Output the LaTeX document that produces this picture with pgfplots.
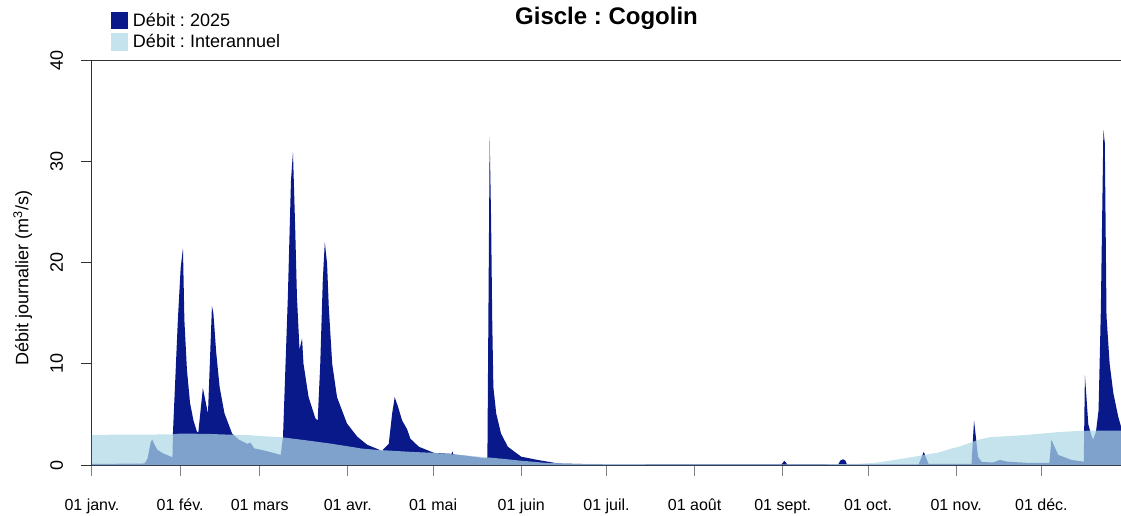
\documentclass[border=0pt]{standalone}
\usepackage{fontspec}
\setmainfont{Liberation Sans}
\usepackage{pgfplots}
\pgfplotsset{compat=1.18}
\definecolor{navyq}{RGB}{10,25,138}
\definecolor{interbleu}{RGB}{173,216,230}
\definecolor{axisgray}{RGB}{50,50,50}
\definecolor{tickgray}{RGB}{130,130,130}
\frenchspacing

\begin{document}
\begin{tikzpicture}
\useasboundingbox (-92pt,-50pt) rectangle (1029pt,465pt);
\begin{axis}[
  width=1029pt, height=405pt, scale only axis,
  xmin=0, xmax=362, ymin=0, ymax=40,
  axis x line*=bottom, axis y line*=left,
  axis line style={axisgray, line width=1pt},
  tick align=outside,
  major tick length=11pt,
  xtick={0,31,59,90,120,151,181,212,243,273,304,334},
  xticklabels={01 janv.,01 fév.,01 mars,01 avr.,01 mai,01 juin,01 juil.,01 août,01 sept.,01 oct.,01 nov.,01 déc.},
  ytick={0,10,20,30,40},
  x tick style={tickgray, line width=1pt},
  y tick style={axisgray, line width=1pt},
  xticklabel style={font=\fontsize{16}{19}\selectfont, anchor=base, yshift=-34pt},
  yticklabel style={font=\fontsize{18}{21}\selectfont, xshift=-18pt, rotate=90, anchor=base},
  /pgf/number format/assume math mode=true,
  every axis y label/.style={at={(axis description cs:0,0.462)}, xshift=-63.5pt, rotate=90, anchor=base, font=\fontsize{18}{21}\selectfont},
  ylabel={Débit journalier (m\textsuperscript{3}/s)},
  title={Giscle : Cogolin},
  title style={font=\fontsize{24}{28}\selectfont\bfseries, at={(axis description cs:0.5,1)}, anchor=base, yshift=29pt},
  legend style={at={(axis description cs:0,1)}, anchor=north west, xshift=19pt, yshift=48pt,
    draw=none, fill=none, inner sep=0pt, outer sep=0pt,
    font=\fontsize{18}{21}\selectfont, row sep=4.5pt, nodes={inner sep=0pt}, cells={anchor=west}},
  legend image code/.code={\fill[#1] (0pt,-8.5pt) rectangle (17pt,8.5pt);},
  /tikz/every odd column/.append style={column sep=5pt},
]

% Debit 2025
\addplot[fill=navyq, draw=none] coordinates {
(0,0.1) (18.5,0.15) (19.5,0.6) (20.7,2.3) (21.2,2.5) (22,2.0) (23,1.5) (25,1.15) (28.3,0.76)
(28.5,3.3) (30.2,14.3) (31.2,19.5) (32,21.4) (32.5,14.3) (33.4,9.4) (34.5,6.1) (35.7,4.4)
(36.9,3.3) (37.4,3.2) (39,7.6) (40.8,5.1) (42.2,15.7) (42.7,15.0) (43.7,11.1) (44.9,7.7)
(46.6,5.1) (49.3,3.1) (51.7,2.5) (54.6,2.1) (55.8,2.2) (57,1.65) (61,1.4) (66.4,1.0)
(67.2,2.8) (68.9,16.6) (70,28.1) (70.7,30.9) (71.5,23.2) (72.1,16.6) (73,11.4) (73.9,12.5)
(74.4,10.0) (76.2,6.7) (78.6,4.6) (79.4,4.4) (80.3,10.0) (81.2,18.3) (81.9,22.0) (82.7,19.9)
(83.3,15.6) (84.5,10.0) (86.2,6.7) (89.7,4.1) (93.3,2.8) (96.8,2.0) (102,1.4) (104.4,2.1)
(105.6,5.1) (106.5,6.7) (107.6,5.8) (109.1,4.4) (110.9,3.5) (112,2.6) (115,1.8) (120.3,1.2)
(126.5,1.1) (126.8,1.35) (127.1,1.05) (132,0.9) (138.8,0.66) (139.1,0.8) (139.9,32.4)
(140.4,24.2) (140.8,14.3) (141.2,7.7) (142.2,5.1) (143.9,3.1) (146.3,1.8) (151,0.82)
(156.8,0.5) (163.8,0.16) (175,0.08) (200,0.05) (242.5,0.05) (243.6,0.42) (244.6,0.05)
(262.5,0.05) (263.3,0.45) (264.2,0.56) (265,0.45) (265.6,0.05) (290.8,0.05) (292.6,1.3)
(294.3,0.1) (309.4,0.1) (310.3,4.4) (311.7,0.8) (313,0.3) (317,0.25) (319.4,0.5) (322,0.33)
(330,0.2) (336.8,0.2) (337.5,2.5) (339.9,1.0) (344.6,0.5) (348.9,0.33) (349.3,8.9)
(350.5,4.0) (351.5,3.0) (352.2,2.5) (353.2,3.3) (354.1,5.4) (354.9,15.3) (355.8,33.1)
(356.3,31.8) (356.9,14.7) (358,10.0) (359.3,7.1) (361,4.8) (362,3.8)
} \closedcycle;
\addlegendentry{Débit : 2025}

% Debit interannuel (semi-transparent, over the 2025 area)
\addplot[fill=interbleu, fill opacity=0.72, draw=none] coordinates {
(0,2.98) (28,3.02) (31,3.1) (40,3.08) (48,3.0) (55,2.95) (60,2.85) (67,2.73) (75,2.45)
(83,2.15) (90,1.85) (95,1.62) (100,1.5) (112,1.3) (120,1.2) (127,1.05) (138,0.78) (145,0.6)
(150,0.45) (155,0.33) (160,0.2) (170,0.12) (185,0.08) (220,0.06) (250,0.06) (262,0.08)
(270,0.12) (275,0.2) (280,0.4) (286,0.66) (292,0.95) (298,1.25) (302,1.6) (305,1.8)
(308,2.1) (312,2.5) (316,2.75) (322,2.85) (328,2.95) (334,3.1) (340,3.25) (346,3.35)
(352,3.4) (362,3.4)
} \closedcycle;
\addlegendentry{Débit : Interannuel}

\draw[axisgray, line width=1pt] (rel axis cs:0,1) -- (rel axis cs:1,1);
\end{axis}
\end{tikzpicture}
\end{document}
